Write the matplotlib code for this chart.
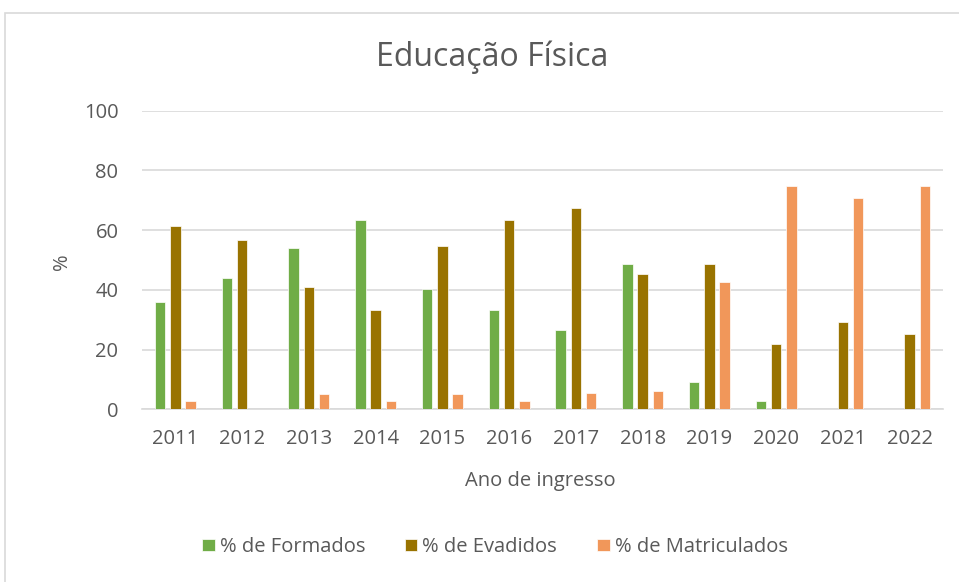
import numpy as np
import matplotlib
matplotlib.use('Agg')
import matplotlib.pyplot as plt
from matplotlib.patches import Rectangle

anos = ['2011', '2012', '2013', '2014', '2015', '2016', '2017', '2018', '2019', '2020', '2021', '2022']
formados = [36, 44, 54, 63.3, 40.4, 33.1, 26.5, 48.5, 9, 2.9, 0, 0]
evadidos = [61.3, 56.6, 41.1, 33.1, 54.6, 63.3, 67.3, 45.2, 48.5, 21.8, 29.1, 25.1]
matriculados = [2.9, 0, 5, 2.9, 5, 2.9, 5.6, 6.2, 42.5, 74.7, 70.6, 74.7]

series = [('% de Formados', formados, '#70AD47'),
          ('% de Evadidos', evadidos, '#997300'),
          ('% de Matriculados', matriculados, '#F1975A')]

plt.rcParams['font.family'] = ['Open Sans', 'DejaVu Sans']
cinza = '#595959'

fig = plt.figure(figsize=(9.59, 5.82), dpi=100)
fig.patches.append(Rectangle((5 / 959, -0.05), 1.1, 1 - 13 / 582 + 0.05, transform=fig.transFigure,
                             fill=False, edgecolor='#D9D9D9', linewidth=1.2))
ax = fig.add_axes([142 / 959, 1 - 409.3 / 582, (943 - 142) / 959, (409.3 - 110.7) / 582])

x = np.arange(len(anos))
largura = 0.16
desloc = 0.228
for i, (nome, vals, cor) in enumerate(series):
    ax.bar(x + (i - 1) * desloc, vals, width=largura, color=cor, label=nome,
           edgecolor='white', linewidth=0.5, zorder=3)

ax.set_xlim(-0.5, len(anos) - 0.5)
ax.set_ylim(0, 100)
ax.set_yticks(range(0, 101, 20))
ax.set_xticks(x)
ax.set_xticklabels(anos)
ax.tick_params(length=0, labelsize=14.5, colors=cinza)
ax.tick_params(axis='x', pad=14.5)
ax.tick_params(axis='y', pad=17)
ax.grid(axis='y', color='#D9D9D9', linewidth=1.2, zorder=0)
for lado in ['top', 'right', 'left']:
    ax.spines[lado].set_visible(False)
ax.spines['bottom'].set_color('#D9D9D9')
ax.spines['bottom'].set_linewidth(1.2)

fig.text(492 / 959, 1 - 57 / 582, 'Educação Física', ha='center', va='center', fontsize=23, color=cinza)
fig.text(540 / 959, 1 - 481 / 582, 'Ano de ingresso', ha='center', va='center', fontsize=14.5, color=cinza)
fig.text(62 / 959, 1 - 262 / 582, '%', ha='center', va='center', fontsize=14.5, color=cinza, rotation=90)

fig.legend(loc='center', bbox_to_anchor=(495 / 959, 1 - 547 / 582), ncol=3, frameon=False,
           fontsize=14.5, labelcolor=cinza, handlelength=0.6, handleheight=0.6,
           handletextpad=0.25, columnspacing=2.0)

fig.savefig('out.png', dpi=100)
